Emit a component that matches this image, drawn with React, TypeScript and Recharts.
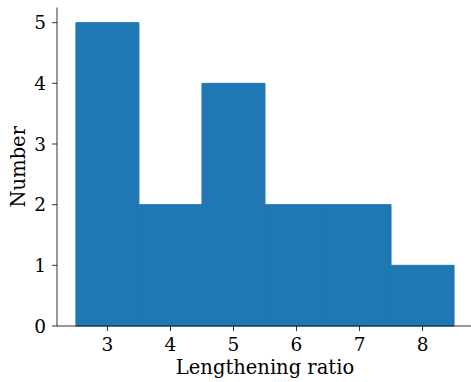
import React from "react";
import { BarChart, Bar, XAxis, YAxis } from "recharts";

const binCenters = [3, 4, 5, 6, 7, 8];
const counts = [5, 2, 4, 2, 2, 1];
const xTicks = [3, 4, 5, 6, 7, 8];
const yTicks = [0, 1, 2, 3, 4, 5];

const data = binCenters.map((x, i) => ({ x, count: counts[i] }));

const FONT = "'DejaVu Serif', serif";
const tickStyle = { fill: "#000", fontSize: 18.5, fontFamily: FONT };
const labelStyle = { fill: "#000", fontSize: 19.5, fontFamily: FONT };

export default function App() {
  return (
    <div style={{ position: "absolute", left: 0, top: 0, width: 471, height: 382, overflow: "hidden", background: "#fff" }}>
      <BarChart
        width={473}
        height={382}
        data={data}
        margin={{ top: 7.5, right: 0, bottom: 0, left: 0 }}
        barCategoryGap={0}
        barGap={0}
      >
        <XAxis
          dataKey="x"
          type="number"
          domain={[2.2, 8.8]}
          ticks={xTicks}
          allowDataOverflow
          height={56}
          tick={tickStyle}
          tickSize={5}
          tickMargin={7}
          axisLine={{ stroke: "#000", strokeWidth: 0.8 }}
          tickLine={{ stroke: "#000", strokeWidth: 0.8 }}
          label={{ value: "Lengthening ratio", position: "insideBottom", offset: 8, style: labelStyle }}
        />
        <YAxis
          type="number"
          domain={[0, 5.25]}
          ticks={yTicks}
          width={57}
          tick={tickStyle}
          tickSize={5}
          tickMargin={6}
          axisLine={{ stroke: "#000", strokeWidth: 0.8 }}
          tickLine={{ stroke: "#000", strokeWidth: 0.8 }}
          label={{ value: "Number", angle: -90, position: "insideLeft", offset: 18, style: { ...labelStyle, textAnchor: "middle" } }}
        />
        <Bar dataKey="count" fill="#1f77b4" stroke="#1f77b4" strokeWidth={1} isAnimationActive={false} />
      </BarChart>
    </div>
  );
}
